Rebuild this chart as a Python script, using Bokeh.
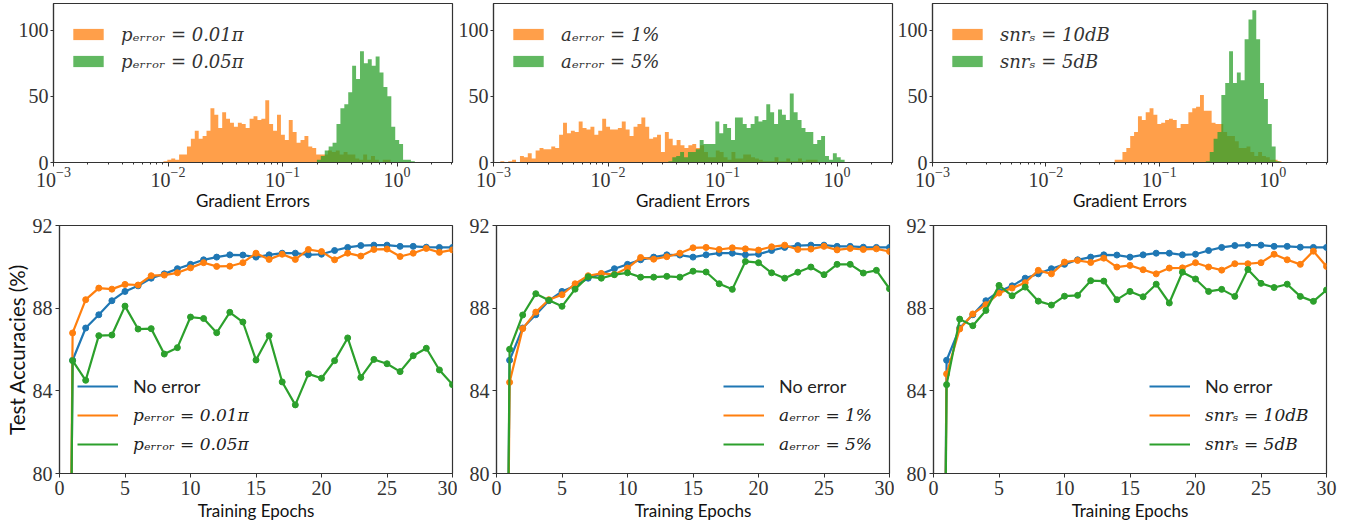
from bokeh.plotting import figure
from bokeh.layouts import column, row
from bokeh.models import Range1d, FixedTicker, Legend, LegendItem
from bokeh.embed import file_html
from bokeh.resources import INLINE

# ---------------- data: gradient-error histograms (log-spaced bins) ----------------
BIN_W = 0.0342  # bin width in decades (log10)

P_ORANGE_START = -2.04
P_ORANGE = [1, 2, 3, 2, 6, 6, 12, 18, 24, 18, 20, 24, 41, 36, 26, 38, 33, 30, 27, 30,
            29, 26, 33, 35, 32, 33, 47, 29, 24, 36, 21, 17, 32, 23, 15, 17, 20, 12, 11, 6,
            6, 6, 9, 8, 9, 6, 8, 6, 6, 3, 2, 6, 2, 5, 2, 0, 2, 2]
P_GREEN_START = -0.70
P_GREEN = [2, 5, 9, 12, 15, 29, 41, 44, 53, 73, 63, 84, 75, 78, 73, 80, 68, 57, 50, 27,
           17, 14, 2, 2, 1]

A_ORANGE_START = -2.94
A_ORANGE = [1, 0, 1, 2, 0, 5, 4, 7, 3, 9, 11, 10, 10, 12, 11, 21, 30, 22, 24, 23,
            31, 26, 25, 27, 21, 24, 33, 27, 25, 25, 26, 31, 25, 20, 27, 29, 34, 27, 18, 19,
            21, 8, 23, 18, 13, 17, 13, 11, 13, 14, 11, 13, 8, 4, 4, 9, 8, 4, 2, 8,
            3, 3, 6, 6, 4, 3, 2, 1, 1, 1, 4, 1, 1, 3, 1, 1, 3, 1, 2, 2, 2]
A_GREEN_START = -1.473
A_GREEN = [1, 4, 5, 8, 4, 8, 8, 10, 17, 14, 14, 14, 31, 22, 29, 26, 17, 34, 34, 29,
           26, 29, 35, 31, 32, 44, 38, 29, 40, 36, 32, 52, 38, 32, 26, 23, 23, 14, 17, 20,
           5, 2, 7, 4, 2]

S_ORANGE_START = -1.393
S_ORANGE = [2, 2, 8, 11, 20, 23, 35, 32, 38, 41, 36, 29, 30, 32, 33, 32, 26, 29, 29, 38,
            41, 42, 51, 39, 39, 30, 29, 29, 23, 20, 20, 16, 11, 11, 12, 8, 5, 8, 5, 4,
            2, 2, 1]
S_GREEN_START = -0.589
S_GREEN = [1, 8, 18, 23, 51, 60, 84, 60, 68, 62, 93, 108, 115, 93, 60, 48, 29, 12, 1]

HIST_LABELS = [
    ("p\u2091\u1d63\u1d63\u2092\u1d63 = 0.01\u03c0", "p\u2091\u1d63\u1d63\u2092\u1d63 = 0.05\u03c0"),
    ("a\u2091\u1d63\u1d63\u2092\u1d63 = 1%", "a\u2091\u1d63\u1d63\u2092\u1d63 = 5%"),
    ("snr\u209b = 10dB", "snr\u209b = 5dB"),
]

# ---------------- data: test accuracies per epoch ----------------
EPOCHS = list(range(0, 31))
NO_ERROR = [10.0, 85.48, 87.04, 87.68, 88.36, 88.81, 89.08, 89.45, 89.66, 89.91, 90.12,
            90.34, 90.47, 90.58, 90.57, 90.47, 90.58, 90.66, 90.66, 90.58, 90.61,
            90.79, 90.94, 91.03, 91.05, 91.05, 90.99, 90.99, 90.95, 90.94, 90.94]
P_001 = [10.0, 86.80, 88.41, 88.97, 88.92, 89.15, 89.12, 89.57, 89.60, 89.71, 89.95,
         90.20, 90.02, 90.03, 90.20, 90.66, 90.36, 90.61, 90.36, 90.84, 90.74,
         90.34, 90.66, 90.52, 90.84, 90.86, 90.50, 90.66, 90.89, 90.70, 90.82]
P_005 = [10.0, 85.46, 84.51, 86.67, 86.70, 88.10, 86.99, 87.01, 85.78, 86.09, 87.57,
         87.50, 86.81, 87.80, 87.33, 85.49, 86.67, 84.43, 83.32, 84.82, 84.61,
         85.46, 86.56, 84.65, 85.52, 85.31, 84.93, 85.70, 86.06, 85.01, 84.30]
A_1 = [10.0, 84.41, 87.01, 87.81, 88.41, 88.65, 89.18, 89.57, 89.68, 89.63, 89.94,
       90.45, 90.37, 90.49, 90.66, 90.92, 90.94, 90.84, 90.92, 90.87, 90.81,
       90.97, 91.05, 90.84, 90.86, 90.99, 90.82, 90.89, 90.84, 90.87, 90.74]
A_5 = [10.0, 86.01, 87.67, 88.70, 88.38, 88.09, 88.92, 89.52, 89.45, 89.62, 89.71,
       89.50, 89.50, 89.54, 89.50, 89.79, 89.75, 89.18, 88.91, 90.26, 90.20,
       89.71, 89.45, 89.74, 89.99, 89.62, 90.12, 90.12, 89.70, 89.83, 88.94]
S_10 = [10.0, 84.82, 86.99, 87.72, 88.17, 88.73, 88.97, 89.23, 89.83, 89.66, 90.23,
        90.31, 90.21, 90.42, 89.99, 90.07, 89.86, 89.66, 89.94, 89.95, 90.20,
        89.99, 89.84, 90.15, 90.15, 90.20, 90.61, 90.34, 90.12, 90.76, 90.02]
S_5 = [10.0, 84.30, 87.47, 87.15, 87.89, 89.10, 88.60, 89.02, 88.34, 88.15, 88.58,
       88.62, 89.33, 89.31, 88.41, 88.81, 88.55, 89.16, 88.25, 89.74, 89.41,
       88.81, 88.91, 88.57, 89.87, 89.20, 89.00, 89.16, 88.57, 88.33, 88.88]

LINE_LABELS = [
    ("p\u2091\u1d63\u1d63\u2092\u1d63 = 0.01\u03c0", "p\u2091\u1d63\u1d63\u2092\u1d63 = 0.05\u03c0"),
    ("a\u2091\u1d63\u1d63\u2092\u1d63 = 1%", "a\u2091\u1d63\u1d63\u2092\u1d63 = 5%"),
    ("snr\u209b = 10dB", "snr\u209b = 5dB"),
]

HIST_X_TICKS = [1e-3, 1e-2, 1e-1, 1.0]
HIST_Y_TICKS = [0, 50, 100]
ACC_X_TICKS = [0, 5, 10, 15, 20, 25, 30]
ACC_Y_TICKS = [80, 84, 88, 92]

# ---------------- styles ----------------
BLUE, ORANGE, GREEN = "#1f77b4", "#ff7f0e", "#2ca02c"
TICK_FONT = "Liberation Serif"
TICK_SIZE = "20px"
LABEL_FONT = "Lato"
LABEL_SIZE = "17px"
MATH_FONT = "DejaVu Serif"
FRAME_COLOR = "#333333"
TEXT_COLOR = "#333333"


def style_axes(p):
    p.outline_line_color = FRAME_COLOR
    p.outline_line_width = 1.2
    p.grid.visible = False
    for ax in (p.xaxis[0], p.yaxis[0]):
        ax.axis_line_color = FRAME_COLOR
        ax.axis_line_width = 1.2
        ax.major_tick_line_color = FRAME_COLOR
        ax.minor_tick_line_color = FRAME_COLOR
        ax.major_tick_out = 4
        ax.major_tick_in = 0
        ax.minor_tick_out = 2
        ax.minor_tick_in = 0
        ax.major_label_text_font = TICK_FONT
        ax.major_label_text_font_size = TICK_SIZE
        ax.major_label_text_color = TEXT_COLOR
        ax.axis_label_text_font = LABEL_FONT
        ax.axis_label_text_font_size = LABEL_SIZE
        ax.axis_label_text_font_style = "normal"
        ax.axis_label_text_color = "#111111"


def step_outline(start, counts):
    # outline of a histogram drawn from its log-spaced bin edges and counts
    edges = [10 ** (start + i * BIN_W) for i in range(len(counts) + 1)]
    xs, ys = [edges[0]], [0]
    for i, c in enumerate(counts):
        xs += [edges[i], edges[i + 1]]
        ys += [c, c]
    xs.append(edges[-1])
    ys.append(0)
    return xs, ys


def hist_panel(width, bl, br, o_start, o_counts, g_start, g_counts, labels):
    p = figure(width=width, height=214, x_axis_type="log",
               x_range=Range1d(1e-3, 10 ** 0.484), y_range=Range1d(0, 120),
               output_backend="svg", toolbar_location=None,
               min_border_left=bl, min_border_right=br,
               min_border_top=3, min_border_bottom=52)
    ox, oy = step_outline(o_start, o_counts)
    gx, gy = step_outline(g_start, g_counts)
    r1 = p.patch(ox, oy, fill_color=ORANGE, fill_alpha=0.75, line_color=None)
    r2 = p.patch(gx, gy, fill_color=GREEN, fill_alpha=0.75, line_color=None)
    style_axes(p)
    minors = [m * 10 ** e for e in (-3, -2, -1, 0) for m in range(2, 10) if m * 10 ** e < 3.05]
    p.xaxis[0].ticker = FixedTicker(ticks=HIST_X_TICKS, minor_ticks=minors)
    p.yaxis[0].ticker = FixedTicker(ticks=HIST_Y_TICKS, minor_ticks=[])
    p.yaxis[0].major_tick_out = 3
    p.yaxis[0].major_label_standoff = 2
    p.xaxis[0].major_label_standoff = 0
    p.xaxis[0].axis_label = "Gradient Errors"
    p.xaxis[0].axis_label_standoff = 0
    lg = Legend(items=[LegendItem(label=labels[0], renderers=[r1]),
                       LegendItem(label=labels[1], renderers=[r2])],
                location=(16, 90))
    lg.label_text_font = MATH_FONT
    lg.label_text_font_style = "italic"
    lg.label_text_font_size = "18px"
    lg.label_text_color = TEXT_COLOR
    lg.border_line_alpha = 0
    lg.background_fill_alpha = 0
    lg.margin = 0
    lg.padding = 0
    lg.spacing = 5
    lg.label_height = 22
    lg.glyph_height = 14
    lg.glyph_width = 38
    lg.label_standoff = 14
    p.add_layout(lg)
    return p


def acc_panel(width, bl, br, series2, series3, labels, leg_x, ylabel=None):
    p = figure(width=width, height=311,
               x_range=Range1d(0, 30), y_range=Range1d(80, 92),
               output_backend="svg", toolbar_location=None,
               min_border_left=bl, min_border_right=br,
               min_border_top=11, min_border_bottom=52)
    lines = []
    for ys, c in ((NO_ERROR, BLUE), (series2, ORANGE), (series3, GREEN)):
        ln = p.line(EPOCHS, ys, line_color=c, line_width=2.2)
        p.scatter(EPOCHS, ys, size=6, fill_color=c, line_color=c)
        lines.append(ln)
    style_axes(p)
    p.xaxis[0].ticker = FixedTicker(ticks=ACC_X_TICKS, minor_ticks=[])
    p.yaxis[0].ticker = FixedTicker(ticks=ACC_Y_TICKS, minor_ticks=[])
    p.yaxis[0].major_label_standoff = 3
    p.xaxis[0].major_label_standoff = 3
    p.xaxis[0].axis_label = "Training Epochs"
    p.xaxis[0].axis_label_standoff = 2
    if ylabel:
        p.yaxis[0].axis_label = ylabel
        p.yaxis[0].axis_label_text_font_size = "20.5px"
        p.yaxis[0].axis_label_standoff = 1

    def mk(items, loc, font, style, size):
        lg = Legend(items=items, location=loc)
        lg.label_text_font = font
        lg.label_text_font_style = style
        lg.label_text_font_size = size
        lg.label_text_color = "#222222"
        lg.border_line_alpha = 0
        lg.background_fill_alpha = 0
        lg.margin = 0
        lg.padding = 0
        lg.spacing = 7
        lg.label_height = 22
        lg.glyph_height = 22
        lg.glyph_width = 41
        lg.label_standoff = 15
        p.add_layout(lg)

    mk([LegendItem(label="No error", renderers=[lines[0]])], (leg_x, 76),
       LABEL_FONT, "normal", "18px")
    mk([LegendItem(label=labels[0], renderers=[lines[1]]),
        LegendItem(label=labels[1], renderers=[lines[2]])], (leg_x, 18),
       MATH_FONT, "italic", "17px")
    return p


t1 = hist_panel(455, 53, 3, P_ORANGE_START, P_ORANGE, P_GREEN_START, P_GREEN, HIST_LABELS[0])
t2 = hist_panel(439, 38, 2, A_ORANGE_START, A_ORANGE, A_GREEN_START, A_GREEN, HIST_LABELS[1])
t3 = hist_panel(467, 34, 34, S_ORANGE_START, S_ORANGE, S_GREEN_START, S_GREEN, HIST_LABELS[2])

b1 = acc_panel(457, 59, 5, P_001, P_005, LINE_LABELS[0], 18, ylabel="Test Accuracies (%)")
b2 = acc_panel(437, 39, 5, A_1, A_5, LINE_LABELS[1], 227)
b3 = acc_panel(467, 39, 35, S_10, S_5, LINE_LABELS[2], 216)

layout = column(row(t1, t2, t3, spacing=0), row(b1, b2, b3, spacing=0), spacing=0)

open("out.html", "w").write(file_html(layout, INLINE))
